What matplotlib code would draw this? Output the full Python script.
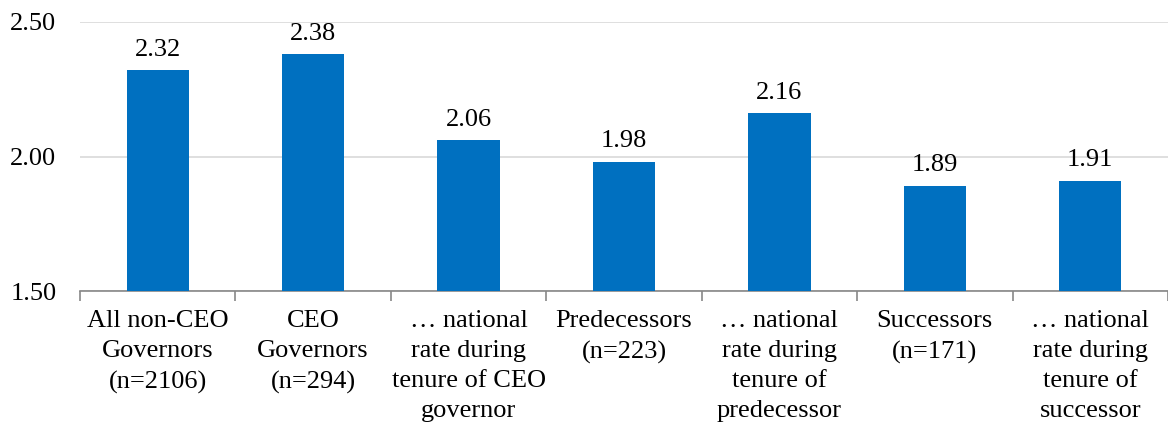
import numpy as np
import matplotlib.pyplot as plt

labels = ["All non-CEO\nGovernors\n(n=2106)",
          "CEO\nGovernors\n(n=294)",
          "\u2026 national\nrate during\ntenure of CEO\ngovernor",
          "Predecessors\n(n=223)",
          "\u2026 national\nrate during\ntenure of\npredecessor",
          "Successors\n(n=171)",
          "\u2026 national\nrate during\ntenure of\nsuccessor"]
values = [2.32, 2.38, 2.06, 1.98, 2.16, 1.89, 1.91]

plt.rcParams['font.family'] = ['Liberation Serif', 'DejaVu Serif']

fig = plt.figure(figsize=(11.68, 4.28), dpi=100)
ax = fig.add_axes([80/1168, 137/428, 1088/1168, 269/428])

x = np.arange(len(values))
ax.bar(x, values, width=0.4, color="#0070C0", zorder=3, bottom=0)
ax.set_ylim(1.5, 2.5)
ax.set_xlim(-0.5, -0.5 + 1088/156)

for xi, v in zip(x, values):
    ax.annotate(f"{v:.2f}", (xi, v), xytext=(0, 7), textcoords="offset points",
                ha="center", va="bottom", fontsize=19)

ax.set_yticks([1.5, 2.0, 2.5])
ax.set_yticklabels(["1.50", "2.00", "2.50"])
ax.tick_params(axis="y", length=0, labelsize=19, pad=17)
ax.yaxis.grid(True, color="#D9D9D9", linewidth=1.2, zorder=0)

ax.set_xticks(x)
ax.set_xticklabels(labels, fontsize=19, linespacing=1.47)
ax.set_xticks(np.arange(-0.5, 7, 1), minor=True)
ax.tick_params(axis="x", which="major", length=0, pad=14)
ax.tick_params(axis="x", which="minor", length=7, color="#878787", width=1.2)

for s in ["top", "right", "left"]:
    ax.spines[s].set_visible(False)
ax.spines["bottom"].set_color("#878787")
ax.spines["bottom"].set_linewidth(1.2)

fig.savefig("out.png", dpi=100)
